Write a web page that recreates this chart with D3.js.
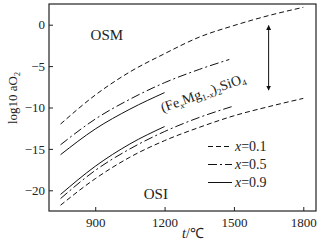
<!DOCTYPE html>
<html>
<head>
<meta charset="utf-8">
<script src="https://cdn.jsdelivr.net/npm/d3@7"></script>
<style>
  body { margin: 0; background: #fff; }
  svg text { font-family: "Liberation Serif", "Times New Roman", serif; fill: #222; }
</style>
</head>
<body>
<div id="chart"></div>
<script>
// temperatures (°C) and log10 aO2
const tUp01 = [750, 900, 1050, 1200, 1350, 1500, 1650, 1800];
const vUp01 = [-12.0, -8.5, -5.7, -3.5, -1.5, -0.1, 1.1, 2.1];
const tUp05 = [750, 900, 1050, 1200, 1350, 1480];
const vUp05 = [-14.5, -11.4, -9.0, -7.0, -5.4, -4.2];
const tUp09 = [750, 900, 1050, 1200];
const vUp09 = [-15.7, -12.6, -10.2, -8.2];

const tLo01 = [750, 900, 1050, 1200, 1350, 1500, 1650, 1800];
const vLo01 = [-21.8, -18.6, -16.0, -14.0, -12.4, -11.0, -9.9, -8.9];
const tLo05 = [750, 900, 1050, 1200, 1350, 1490];
const vLo05 = [-21.0, -17.6, -15.0, -12.9, -11.2, -9.9];
const tLo09 = [750, 900, 1050, 1200];
const vLo09 = [-20.5, -17.1, -14.4, -12.3];

const xTicks = [900, 1200, 1500, 1800];
const yTicks = [0, -5, -10, -15, -20];
const legendKeys = ["0.1", "0.5", "0.9"];
const dashes = { "0.1": "5,3", "0.5": "9,3,2,3", "0.9": null };

const W = 324, H = 248;
const margin = { top: 4, right: 8, bottom: 37, left: 49 };
const width = W - margin.left - margin.right;
const height = H - margin.top - margin.bottom;

const svg = d3.select("#chart").append("svg")
  .attr("width", W).attr("height", H)
  .append("g")
  .attr("transform", `translate(${margin.left},${margin.top})`);

const x = d3.scaleLinear().domain([700, 1855]).range([0, width]);
const y = d3.scaleLinear().domain([-22.5, 2.5]).range([height, 0]);

// axes, ticks pointing inward
const xAxis = svg.append("g")
  .attr("transform", `translate(0,${height})`)
  .call(d3.axisBottom(x).tickValues(xTicks).tickSize(-4).tickPadding(7)
    .tickFormat(d3.format("d")));
const yAxis = svg.append("g")
  .call(d3.axisLeft(y).tickValues(yTicks).tickSize(-4).tickPadding(4)
    .tickFormat(d3.format("d")));
[xAxis, yAxis].forEach(a => {
  a.select(".domain").remove();
  a.selectAll("line").attr("stroke", "#222");
  a.selectAll("text").style("font-size", "13px").attr("fill", "#222");
});

svg.append("rect")
  .attr("width", width).attr("height", height)
  .attr("fill", "none").attr("stroke", "#222").attr("stroke-width", 1.2);

const line = d3.line()
  .x(d => x(d[0]))
  .y(d => y(d[1]))
  .curve(d3.curveMonotoneX);

const curves = [
  [tUp01, vUp01, "0.1"], [tUp05, vUp05, "0.5"], [tUp09, vUp09, "0.9"],
  [tLo01, vLo01, "0.1"], [tLo05, vLo05, "0.5"], [tLo09, vLo09, "0.9"]
];
curves.forEach(([ts, vs, k]) => {
  svg.append("path")
    .datum(ts.map((t, i) => [t, vs[i]]))
    .attr("d", line)
    .attr("fill", "none")
    .attr("stroke", "#111")
    .attr("stroke-width", 1)
    .attr("stroke-dasharray", dashes[k]);
});

// double-headed arrow
const defs = svg.append("defs");
defs.append("marker").attr("id", "ah")
  .attr("viewBox", "0 0 10 10").attr("refX", 9).attr("refY", 5)
  .attr("markerWidth", 5).attr("markerHeight", 9)
  .attr("markerUnits", "userSpaceOnUse")
  .attr("orient", "auto-start-reverse")
  .append("path").attr("d", "M0,0 L10,5 L0,10 Z").attr("fill", "#111");
svg.append("line")
  .attr("x1", x(1650)).attr("x2", x(1650))
  .attr("y1", y(-0.1)).attr("y2", y(-7.9))
  .attr("stroke", "#111").attr("stroke-width", 1)
  .attr("marker-start", "url(#ah)").attr("marker-end", "url(#ah)");

// region labels
svg.append("text").attr("x", x(880)).attr("y", y(-1.9))
  .style("font-size", "15px").text("OSM");
svg.append("text").attr("x", x(1110)).attr("y", y(-21.0))
  .style("font-size", "15px").text("OSI");

// rotated formula
const f = svg.append("text")
  .attr("transform", `translate(${x(1192)},${y(-10.6)}) rotate(-20)`)
  .style("font-size", "14px");
f.append("tspan").text("(Fe");
f.append("tspan").attr("dy", 3).style("font-size", "9px").style("font-style", "italic").text("x");
f.append("tspan").attr("dy", -3).text("Mg");
f.append("tspan").attr("dy", 3).style("font-size", "9px").text("1-");
f.append("tspan").style("font-size", "9px").style("font-style", "italic").text("x");
f.append("tspan").attr("dy", -3).text(")");
f.append("tspan").attr("dy", 3).style("font-size", "9px").text("2");
f.append("tspan").attr("dy", -3).text("SiO");
f.append("tspan").attr("dy", 3).style("font-size", "9px").text("4");

// legend
const legend = svg.selectAll(".leg").data(legendKeys).enter().append("g")
  .attr("class", "leg")
  .attr("transform", (d, i) => `translate(${208 - margin.left},${146.5 - margin.top + i * 18})`);
legend.append("line")
  .attr("x1", 0).attr("x2", 24)
  .attr("stroke", "#111").attr("stroke-width", 1)
  .attr("stroke-dasharray", d => dashes[d]);
legend.append("text")
  .attr("x", 27).attr("dy", "0.35em")
  .style("font-size", "14px")
  .html(d => `<tspan font-style="italic">x</tspan>=${d}`);

// axis titles
const yl = svg.append("text")
  .attr("transform", `translate(${17 - margin.left},${98 - margin.top}) rotate(-90)`)
  .attr("text-anchor", "middle")
  .style("font-size", "13px");
yl.append("tspan").text("log10 aO");
yl.append("tspan").attr("dy", 3).style("font-size", "8px").text("2");

const xl = svg.append("text")
  .attr("x", 193 - margin.left).attr("y", 238 - margin.top)
  .attr("text-anchor", "middle")
  .style("font-size", "14px");
xl.append("tspan").style("font-style", "italic").text("t");
xl.append("tspan").text("/℃");
</script>
</body>
</html>
